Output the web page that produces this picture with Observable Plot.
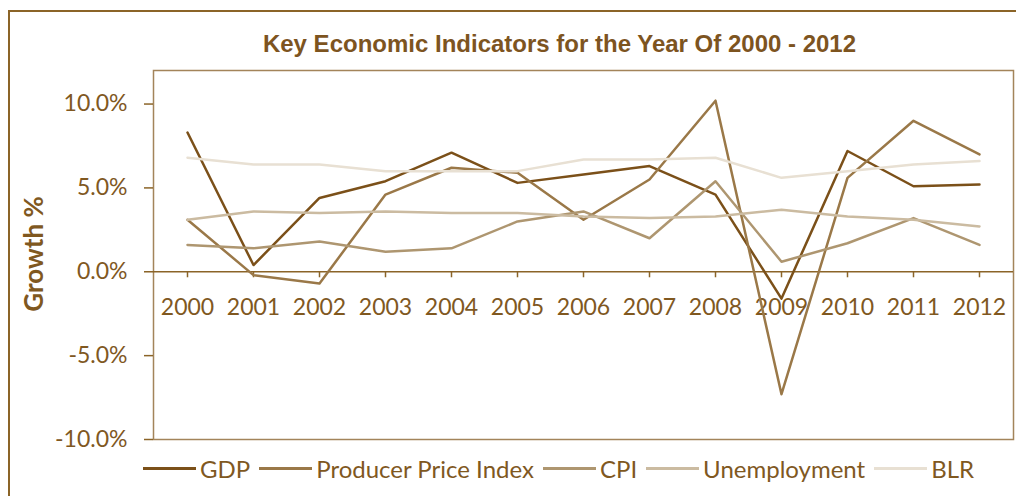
<!DOCTYPE html>
<html>
<head>
<meta charset="utf-8">
<script src="https://cdn.jsdelivr.net/npm/d3@7"></script>
<script src="https://cdn.jsdelivr.net/npm/@observablehq/plot@0.6"></script>
<style>
  body { margin: 0; background: #fff; }
  #wrap { position: relative; width: 1016px; height: 496px; overflow: hidden; font-family: Lato, sans-serif; color: #80581f; background: #fff; }
  #border { position: absolute; left: 8px; top: 10px; width: 1040px; height: 540px; border: 2px solid #8b6428; box-sizing: border-box; }
  #title { position: absolute; left: 0; width: 1119px; top: 30px; line-height: 30px; text-align: center; font: bold 24px "Liberation Sans", Arial, sans-serif; color: #7d541f; white-space: nowrap; }
  #ylabel { position: absolute; left: 33px; top: 254px; transform: translate(-50%, -50%) rotate(-90deg); font: bold 26px Lato, sans-serif; color: #80581f; white-space: nowrap; }
  #chart { position: absolute; left: 0; top: 0; }
  #legend { position: absolute; left: 143px; top: 454px; height: 28px; display: flex; align-items: center; font: 24px Lato, sans-serif; color: #80581f; white-space: nowrap; }
  .sw { display: inline-block; width: 53px; height: 3px; margin-right: 4px; }
  .item { display: flex; align-items: center; margin-right: 9px; }
</style>
</head>
<body>
<div id="wrap">
  <div id="border"></div>
  <div id="chart"></div>
  <div id="title">Key Economic Indicators for the Year Of 2000 - 2012</div>
  <div id="ylabel">Growth %</div>
  <div id="legend"></div>
</div>
<script>
const years = [2000, 2001, 2002, 2003, 2004, 2005, 2006, 2007, 2008, 2009, 2010, 2011, 2012];
const gdp          = [8.3, 0.4, 4.4, 5.4, 7.1, 5.3, 5.8, 6.3, 4.6, -1.6, 7.2, 5.1, 5.2];
const ppi          = [3.1, -0.2, -0.7, 4.6, 6.2, 5.9, 3.1, 5.5, 10.2, -7.3, 5.6, 9.0, 7.0];
const cpi          = [1.6, 1.4, 1.8, 1.2, 1.4, 3.0, 3.6, 2.0, 5.4, 0.6, 1.7, 3.2, 1.6];
const unemployment = [3.1, 3.6, 3.5, 3.6, 3.5, 3.5, 3.3, 3.2, 3.3, 3.7, 3.3, 3.1, 2.7];
const blr          = [6.8, 6.4, 6.4, 6.0, 6.0, 6.0, 6.7, 6.7, 6.8, 5.6, 6.0, 6.4, 6.6];
const seriesNames  = ["GDP", "Producer Price Index", "CPI", "Unemployment", "BLR"];
const seriesValues = [gdp, ppi, cpi, unemployment, blr];
const colors       = ["#7b5019", "#9a7848", "#ae9670", "#cbbba1", "#e8e0d3"];
const yTicks       = [-10, -5, 0, 5, 10];

const rows = seriesNames.flatMap((name, s) =>
  years.map((year, i) => ({series: name, year, value: seriesValues[s][i]}))
);

const ink = "#80581f";
const axisInk = "#8b6428";

const chart = Plot.plot({
  width: 1016,
  height: 496,
  marginLeft: 153,
  marginRight: 3,
  marginTop: 70,
  marginBottom: 57,
  style: {background: "transparent", fontFamily: "Lato, sans-serif", color: ink},
  x: {type: "point", domain: years, padding: 0.5, axis: null},
  y: {domain: [-10, 12], axis: null},
  color: {domain: seriesNames, range: colors},
  marks: [
    Plot.frame({stroke: "#a3845a", strokeWidth: 1.5}),
    Plot.axisY({
      ticks: yTicks,
      tickFormat: d => d.toFixed(1) + "%",
      tickSize: 9,
      tickPadding: 17,
      stroke: axisInk,
      strokeWidth: 1.5,
      fill: ink,
      fontSize: 23,
      label: null
    }),
    Plot.ruleY([0], {stroke: axisInk, strokeWidth: 1.5}),
    Plot.ruleX(years, {x: d => d, y1: 0, y2: 0, insetBottom: -6, stroke: axisInk, strokeWidth: 1.5}),
    Plot.text(years, {x: d => d, y: 0, dy: 36, text: d => String(d), fill: ink, fontSize: 23}),
    Plot.line(rows, {x: "year", y: "value", z: "series", stroke: "series", strokeWidth: 2.5})
  ]
});
document.getElementById("chart").appendChild(chart);

const legend = document.getElementById("legend");
seriesNames.forEach((name, i) => {
  const item = document.createElement("div");
  item.className = "item";
  const sw = document.createElement("span");
  sw.className = "sw";
  sw.style.background = colors[i];
  const label = document.createElement("span");
  label.textContent = name;
  item.appendChild(sw);
  item.appendChild(label);
  legend.appendChild(item);
});
</script>
</body>
</html>
